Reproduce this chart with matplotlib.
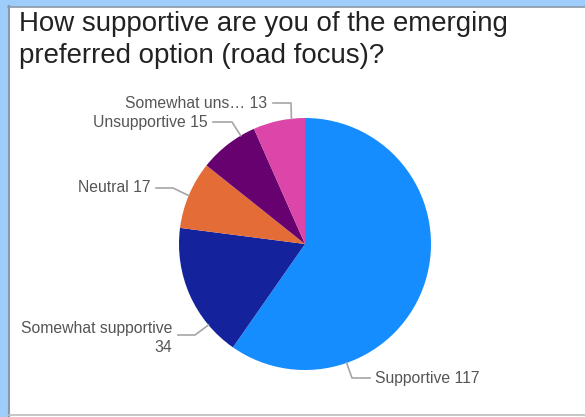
import numpy as np
import matplotlib.pyplot as plt
from matplotlib.patches import Rectangle

plt.rcParams['font.family'] = ['Liberation Sans', 'DejaVu Sans']

# Data
labels = ["Supportive", "Somewhat supportive", "Neutral", "Unsupportive", "Somewhat uns\u2026"]
values = [117, 34, 17, 15, 13]
colors = ["#168dff", "#14229c", "#e46c37", "#66016f", "#dc46a8"]
label_texts = ["Supportive 117", "Somewhat supportive\n34", "Neutral 17",
               "Unsupportive 15", "Somewhat uns\u2026 13"]

W, H = 585, 417
fig = plt.figure(figsize=(W / 100, H / 100), dpi=100, facecolor="white")

# page frame (light blue band on top/left, grey borders)
fig.patches.append(Rectangle((0, 0), 8 / W, 1, transform=fig.transFigure, color="#9fcdfb", zorder=1))
fig.patches.append(Rectangle((0, (H - 6) / H), 1, 6 / H, transform=fig.transFigure, color="#9fcdfb", zorder=1))
fig.lines.append(plt.Line2D([8.5 / W, 8.5 / W], [0, (H - 6) / H], transform=fig.transFigure,
                            color="#8a9aa8", lw=1.5, zorder=2))
fig.lines.append(plt.Line2D([8 / W, 1], [(H - 6.5) / H, (H - 6.5) / H], transform=fig.transFigure,
                            color="#8a9aa8", lw=1.2, zorder=2))
fig.lines.append(plt.Line2D([8 / W, 1], [2 / H, 2 / H], transform=fig.transFigure,
                            color="#bdbdbd", lw=1.2, zorder=2))

# title
fig.text(19 / W, 1 - 11 / H, "How supportive are you of the emerging\npreferred option (road focus)?",
         fontsize=19.9, color="#222222", ha="left", va="top", linespacing=1.28)

# pie: centre (305, 244), radius 126 px
cx, cy, r = 305, 244, 126
ax = fig.add_axes([(cx - r) / W, (H - cy - r) / H, 2 * r / W, 2 * r / H])
ax.set_zorder(5)
ax.patch.set_visible(False)
ax.pie(values, colors=colors, startangle=90, counterclock=False,
       wedgeprops=dict(linewidth=0))
ax.set_xlim(-1, 1)
ax.set_ylim(-1, 1)
ax.set_aspect("auto")

# leader lines: anchor angle on the rim, elbow and end (pixels from centre)
anchor_deg = [-70.7, -140, 157.4, 120.7, 96.2]
elbows = [(47, 134), (-110, 91), (-132, -56), (-73, -122), (-14, -141)]
ends = [(65, 134), (-127, 91), (-149, -56), (-92, -122), (-32, -141)]
text_pos = [(70, 134), (-133, 92), (-155, -56), (-97, -122), (-38, -141)]

for i, txt in enumerate(label_texts):
    a = np.deg2rad(anchor_deg[i])
    x0, y0 = np.cos(a), np.sin(a)
    ex, ey = elbows[i][0] / r, -elbows[i][1] / r
    tx, ty = ends[i][0] / r, -ends[i][1] / r
    ax.plot([x0, ex, tx], [y0, ey, ty], color="#a6a6a6", lw=1.2, clip_on=False)
    px, py = text_pos[i][0] / r, -text_pos[i][1] / r
    ha = "left" if text_pos[i][0] > 0 else "right"
    va = "center"
    if "\n" in txt:
        va = "top"
        py += 15 / r
    ax.text(px, py, txt, ha=ha, va=va, fontsize=11.3, color="#555555",
            multialignment="right", linespacing=1.35, clip_on=False)

fig.savefig("out.png", dpi=100)
